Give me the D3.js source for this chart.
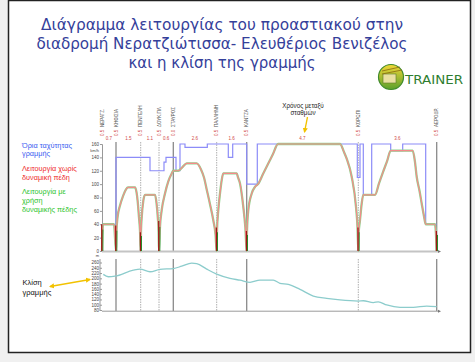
<!DOCTYPE html>
<html>
<head>
<meta charset="utf-8">
<script src="https://cdn.jsdelivr.net/npm/d3@7"></script>
<style>
  body { margin: 0; background: #f0f0f0; }
  svg { display: block; font-family: "Liberation Sans", Arial, sans-serif; }
</style>
</head>
<body>
<div id="chart"></div>
<script>
// ---- data ----
const titleLines = [
  'Διάγραμμα λειτουργίας του προαστιακού στην',
  'διαδρομή Νερατζιώτισσα- Ελευθέριος Βενιζέλος',
  'και η κλίση της γραμμής'
];

const stationKm = [0, 1.4, 3.87, 5.7, 7.13, 11.47, 14.47, 25.63, 33.47];
const stationNames = ['ΝΕΡΑΤΖ.', 'ΚΗΦΙΣΙΑ', 'ΠΕΝΤΕΛΗ', 'ΔΟΥΚ.ΠΛ', 'ΣΤΑΥΡΟΣ', 'ΠΑΛΛΗΝΗ', 'ΚΑΝΤΖΑ', 'ΚΟΡΩΠΙ', 'ΑΕΡΟΔΡ.'];
const dwellLabels = ['0.5', '0.5', '0.5', '0.5', '0.0', '0.5', '0.5', '0.5', '0.5'];
const legTimes = ['0.7', '1.5', '1.1', '0.6', '2.6', '1.6', '4.7', '3.6'];
const stopMarkTop = [40, 38, 28, 45, 0, 35, 30, 35, 30];

const speedTicks = [0, 20, 40, 60, 80, 100, 120, 140, 160];
const elevTicks = [80, 100, 120, 140, 160, 180, 200, 220, 240, 260];

// speed limit, step changes (km, km/h)
const limitKm = [0, 1.4, 4.8, 6.2, 6.4, 7.4, 7.8, 8.3, 10.53, 12.63, 13.07, 14.47, 15.53, 25.53, 25.8, 26.13, 26.97, 28.87, 30.07, 32.37, 33.47];
const limitSpeed = [40, 140, 120, 133, 140, 120, 160, 155, 160, 140, 160, 100, 160, 110, 160, 84, 160, 150, 160, 40, 40];

// running profile (km, km/h)
const runKm = [
  0, 0.1, 1.2, 1.4,
  1.45, 1.55, 1.8, 2.1, 2.4, 2.6, 3.3, 3.45, 3.57, 3.7, 3.8, 3.87,
  3.9, 3.97, 4.13, 4.3, 5.3, 5.45, 5.58, 5.66, 5.7,
  5.8, 5.97, 6.3, 6.63, 6.97, 7.13, 7.63, 8.05, 8.47, 9.47, 9.9, 10.2, 10.47, 10.8, 11.13, 11.35, 11.47,
  11.5, 11.63, 11.8, 11.97, 12.13, 13.47, 13.6, 13.8, 14.13, 14.33, 14.47,
  14.5, 14.63, 14.97, 15.3, 15.6, 16.1, 16.6, 17.1, 17.6, 23.8, 24.2, 24.47, 24.97, 25.4, 25.55, 25.63,
  25.66, 25.8, 25.97, 26.13, 27.3, 27.7, 28.1, 28.5, 28.87, 31.07, 31.3, 31.47, 31.75, 31.97, 32.2, 32.37, 33.3, 33.47
];
const runSpeed = [
  0, 40, 40, 0,
  30, 50, 68, 82, 92, 95, 95, 88, 74, 50, 30, 0,
  30, 50, 75, 84, 84, 72, 50, 28, 0,
  36, 61, 86, 104, 116, 120, 120, 125.5, 131, 131, 122, 110, 92, 70, 46, 25, 0,
  30, 61, 86, 106, 116, 116, 110, 101, 66, 36, 0,
  30, 61, 86, 96, 100, 115, 130, 145, 160, 160, 148, 138, 111, 66, 35, 0,
  25, 46, 71, 84, 84, 101, 118, 134, 150, 150, 133, 111, 90, 71, 52, 40, 40, 0
];

// line elevation (km, m)
const elevKm = [0.13, 0.63, 1.3, 3.13, 3.8, 4.8, 5.8, 7.13, 7.97, 8.97, 9.47, 10.47, 11.47, 12.8, 13.8, 14.8, 15.8, 17.13, 17.8, 18.63, 19.8, 21.13, 22.47, 23.8, 25.63, 26.13, 27.13, 27.63, 28.47, 29.8, 31.13, 32.47, 33.47];
const elevM = [215, 206, 208, 231, 235, 225, 234, 237, 246, 258, 256, 235, 216, 200, 193, 185, 193, 193, 181, 177, 158, 133, 124, 118, 114, 115, 108, 111, 99, 90, 90, 95, 93];

// ---- drawing ----
const W = 475, H = 362;
const svg = d3.select('#chart').append('svg').attr('width', W).attr('height', H);

svg.append('rect')
  .attr('x', 8.5).attr('y', 0.5).attr('width', 462).attr('height', 352)
  .attr('fill', '#fff').attr('stroke', '#222').attr('stroke-width', 1.5);

const titleWidths = [362, 371, 187];
svg.selectAll('text.title').data(titleLines).join('text')
  .attr('class', 'title')
  .attr('x', 222).attr('y', (d, i) => 30 + i * 19.2)
  .attr('text-anchor', 'middle')
  .attr('font-family', '"DejaVu Sans", sans-serif')
  .attr('font-size', 16)
  .attr('fill', '#34409a')
  .attr('textLength', (d, i) => titleWidths[i])
  .attr('lengthAdjust', 'spacingAndGlyphs')
  .text(d => d);

// logo
const defs = svg.append('defs');
const grad = defs.append('linearGradient').attr('id', 'logo').attr('x1', 0).attr('y1', 0).attr('x2', 0).attr('y2', 1);
grad.append('stop').attr('offset', '0%').attr('stop-color', '#f4d836');
grad.append('stop').attr('offset', '100%').attr('stop-color', '#5aa02c');
const logo = svg.append('g').attr('transform', 'translate(391,77)');
logo.append('circle').attr('r', 12.5).attr('fill', 'url(#logo)').attr('stroke', '#3f8a2a').attr('stroke-width', 1.2);
logo.append('rect').attr('x', -8).attr('y', -3).attr('width', 13).attr('height', 9).attr('fill', '#e9e0a0').attr('stroke', '#5a7a2a').attr('stroke-width', 0.6);
logo.append('path').attr('d', 'M-9,-6 L9,-10 M-9,-3 L11,-7').attr('stroke', '#8a6a10').attr('stroke-width', 0.8).attr('fill', 'none');
svg.append('text').attr('x', 405).attr('y', 83.5)
  .attr('font-size', 12).attr('fill', '#2f7d2f').attr('font-family', '"DejaVu Sans", sans-serif')
  .attr('textLength', 58).attr('lengthAdjust', 'spacingAndGlyphs').text('TRAINER');

// scales
const x = d3.scaleLinear().domain([0, 33.5]).range([102, 437]);
const yS = d3.scaleLinear().domain([0, 160]).range([251, 144]);
const yE = d3.scaleLinear().domain([80, 260]).range([310, 262.5]);

// station verticals
const solid = new Set([1, 4, 6, 8]);
stationKm.forEach((km, i) => {
  if (i === 0) return;
  [[142, 251], [259, 311]].forEach(([a, b]) => {
    svg.append('line')
      .attr('x1', x(km)).attr('x2', x(km)).attr('y1', a).attr('y2', b)
      .attr('stroke', solid.has(i) ? '#8a8a8a' : '#9a9a9a')
      .attr('stroke-width', solid.has(i) ? 1.3 : 0.8)
      .attr('stroke-dasharray', solid.has(i) ? null : '1.5,1');
  });
});

// station names and times
svg.selectAll('text.st').data(stationKm).join('text')
  .attr('class', 'st')
  .attr('transform', (d, i) => `translate(${x(d) + 1.5},127) rotate(-90)`)
  .attr('font-size', 4.5).attr('fill', '#555')
  .text((d, i) => stationNames[i]);
svg.selectAll('text.dw').data(stationKm).join('text')
  .attr('class', 'dw')
  .attr('transform', d => `translate(${x(d) + 1.5},136) rotate(-90)`)
  .attr('font-size', 4.5).attr('fill', '#d04848')
  .text((d, i) => dwellLabels[i]);
svg.selectAll('text.leg').data(legTimes).join('text')
  .attr('class', 'leg')
  .attr('x', (d, i) => x((stationKm[i] + stationKm[i + 1]) / 2))
  .attr('y', 140).attr('text-anchor', 'middle')
  .attr('font-size', 4.5).attr('fill', '#d04848')
  .text(d => d);

// axes
const axS = svg.append('g').attr('transform', 'translate(102,0)')
  .call(d3.axisLeft(yS).tickValues(speedTicks).tickSize(2).tickPadding(1));
const axE = svg.append('g').attr('transform', 'translate(102,0)')
  .call(d3.axisLeft(yE).tickValues(elevTicks).tickSize(2).tickPadding(1));
[axS, axE].forEach(ax => {
  ax.selectAll('text').attr('font-size', 4.5).attr('fill', '#444').attr('font-family', '"Liberation Sans", Arial, sans-serif');
  ax.selectAll('line').attr('stroke', '#999');
  ax.select('.domain').attr('stroke', '#999');
});
axE.select('.domain').attr('d', 'M-2,259V311');
svg.append('text').attr('x', 99).attr('y', 152).attr('text-anchor', 'end').attr('font-size', 4).attr('fill', '#444').text('km/h');
svg.append('text').attr('x', 99).attr('y', 257).attr('text-anchor', 'end').attr('font-size', 4).attr('fill', '#444').text('m');

[251.5, 311.2].forEach(yy => {
  svg.append('line').attr('x1', 102).attr('x2', 438).attr('y1', yy).attr('y2', yy)
    .attr('stroke', yy < 300 ? '#c4c4c4' : '#9a9a9a').attr('stroke-width', yy < 300 ? 2 : 1);
  svg.append('path').attr('d', `M438,${yy - 1.5}L441,${yy}L438,${yy + 1.5}Z`).attr('fill', '#777');
});

// speed limit
const limitData = limitKm.map((k, i) => [k, limitSpeed[i]]);
svg.append('path').datum(limitData)
  .attr('fill', 'none').attr('stroke', '#8c8cf8').attr('stroke-width', 1.2)
  .attr('d', d3.line().x(d => x(d[0])).y(d => yS(d[1])).curve(d3.curveStepAfter));

// running profile: green (dynamic brake) under red
const runData = runKm.map((k, i) => [k, runSpeed[i]]);
const runLine = d3.line().x(d => x(d[0])).y(d => yS(d[1])).curve(d3.curveMonotoneX);
svg.append('path').datum(runData)
  .attr('fill', 'none').attr('stroke', '#8fd48f').attr('stroke-width', 2.3)
  .attr('d', runLine);
svg.append('path').datum(runData)
  .attr('fill', 'none').attr('stroke', '#f58a8a').attr('stroke-width', 1.2)
  .attr('d', runLine);

// dark marks at the stops
stationKm.forEach((km, i) => {
  if (!stopMarkTop[i]) return;
  svg.append('line').attr('x1', x(km) + 0.8).attr('x2', x(km) + 0.8)
    .attr('y1', yS(0)).attr('y2', yS(stopMarkTop[i] * 0.8))
    .attr('stroke', '#2a8a2a').attr('stroke-width', 1);
  svg.append('line').attr('x1', x(km) - 0.3).attr('x2', x(km) - 0.3)
    .attr('y1', yS(0)).attr('y2', yS(stopMarkTop[i]))
    .attr('stroke', '#a01818').attr('stroke-width', 1.2);
});

// elevation
const elevData = elevKm.map((k, i) => [k, elevM[i]]);
svg.append('path').datum(elevData)
  .attr('fill', 'none').attr('stroke', '#8ccccc').attr('stroke-width', 1.3)
  .attr('d', d3.line().x(d => x(d[0])).y(d => yE(d[1])).curve(d3.curveMonotoneX));

// legend
const legendBlue = ['Όρια ταχύτητας', 'γραμμής'];
const legendRed = ['Λειτουργία χωρίς', 'δυναμική πέδη'];
const legendGreen = ['Λειτουργία με', 'χρήση', 'δυναμικής πέδης'];
[[legendBlue, '#3a5cf0', 147.7], [legendRed, '#ee2a2a', 171], [legendGreen, '#2cc42c', 194.4]].forEach(([lines, col, y0]) => {
  lines.forEach((t, i) => {
    svg.append('text').attr('x', 22).attr('y', y0 + i * 8.6)
      .attr('font-size', 7.3).attr('fill', col).text(t);
  });
});

['Κλίση', 'γραμμής'].forEach((t, i) => {
  svg.append('text').attr('x', 22.5).attr('y', 284.7 + i * 10.5)
    .attr('font-size', 7.5).attr('fill', '#111').text(t);
});

// yellow arrows and note
defs.append('marker').attr('id', 'ah').attr('viewBox', '0 0 10 10').attr('refX', 8).attr('refY', 5)
  .attr('markerWidth', 4).attr('markerHeight', 4).attr('orient', 'auto-start-reverse')
  .append('path').attr('d', 'M0,0L10,5L0,10Z').attr('fill', '#f2c200');
svg.append('line').attr('x1', 50).attr('y1', 286.5).attr('x2', 90).attr('y2', 279.5)
  .attr('stroke', '#f2c200').attr('stroke-width', 1.3)
  .attr('marker-start', 'url(#ah)').attr('marker-end', 'url(#ah)');
svg.append('line').attr('x1', 307.5).attr('y1', 117).attr('x2', 304.5).attr('y2', 132)
  .attr('stroke', '#f2c200').attr('stroke-width', 1.3).attr('marker-end', 'url(#ah)');
['Χρόνος μεταξύ', 'σταθμών'].forEach((t, i) => {
  svg.append('text').attr('x', 303).attr('y', 107.5 + i * 7.5).attr('text-anchor', 'middle')
    .attr('font-size', 6.3).attr('fill', '#222').text(t);
});
</script>
</body>
</html>
